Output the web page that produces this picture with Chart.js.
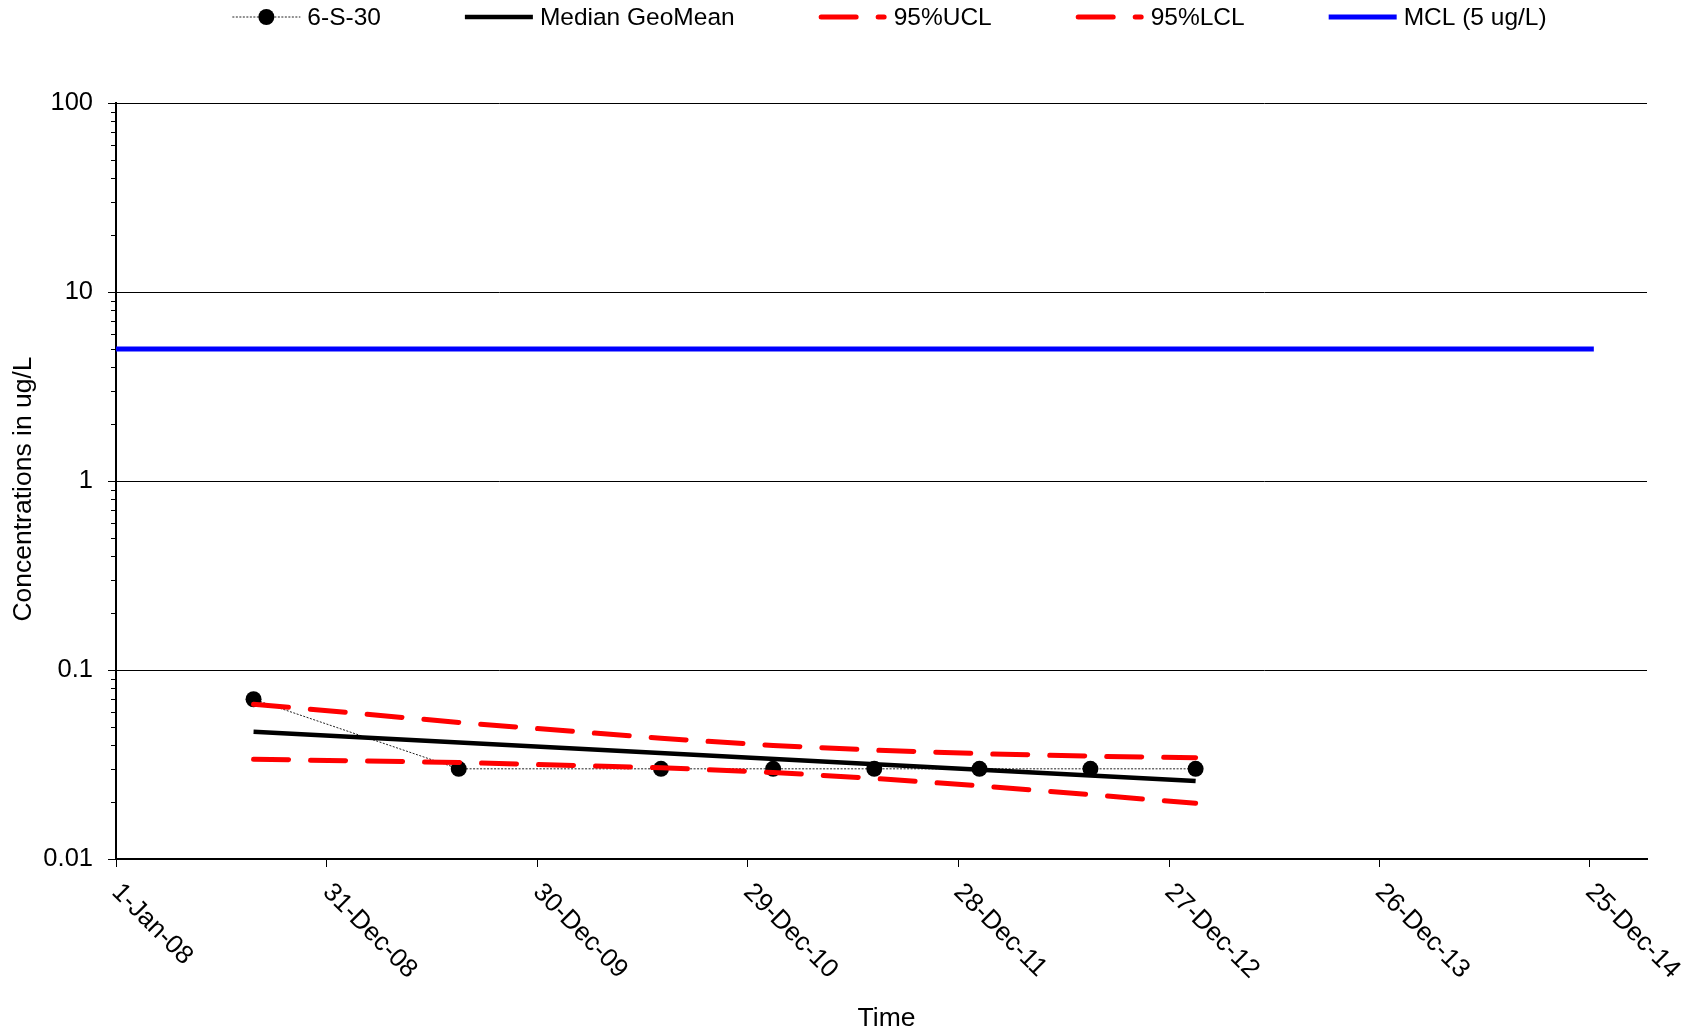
<!DOCTYPE html>
<html><head><meta charset="utf-8">
<script src="https://cdn.jsdelivr.net/npm/chart.js@4.4.0/dist/chart.umd.min.js"></script>
<style>html,body{margin:0;padding:0;background:#fff;overflow:hidden}</style>
</head><body>
<canvas id="c" width="1693" height="1034"></canvas>
<script>
// ---- data ----
const seriesName = '6-S-30';
const sampleDates = ['2008-08-26','2009-08-16','2010-08-01','2011-02-11','2011-08-05','2012-02-03','2012-08-13','2013-02-11'];
const sampleValues = [0.07,0.03,0.03,0.03,0.03,0.03,0.03,0.03];
const trendDates = ['2008-08-26','2013-02-11'];
const medianValues = [0.0471,0.0259];
const bandDates = ['2008-08-26','2009-08-16','2010-08-01','2011-02-11','2011-08-05','2012-02-03','2012-08-13','2013-02-11'];
const uclValues = [0.0659,0.0528,0.0435,0.0399,0.0377,0.0361,0.0350,0.0343];
const lclValues = [0.0337,0.0324,0.0304,0.0287,0.0267,0.0244,0.0219,0.0197];
const mclDates = ['2008-01-01','2015-01-01'];
const mclValues = [5,5];
const xTickDates = ['2008-01-01','2008-12-31','2009-12-30','2010-12-29','2011-12-28','2012-12-27','2013-12-26','2014-12-25'];
const xTickLabels = ['1-Jan-08','31-Dec-08','30-Dec-09','29-Dec-10','28-Dec-11','27-Dec-12','26-Dec-13','25-Dec-14'];
const xAxisStart = '2008-01-01';
const xAxisEnd = '2015-04-03';
const yTickValues = [0.01,0.1,1,10,100];
const yTickLabels = ['0.01','0.1','1','10','100'];
const yTitle = 'Concentrations in ug/L';
const xTitle = 'Time';

// ---- helpers ----
const FONT = "'Liberation Sans', Arial, Helvetica, sans-serif";
const DAY0 = Date.UTC(2008,0,1);
function toDay(s){const p=s.split('-').map(Number);return (Date.UTC(p[0],p[1]-1,p[2])-DAY0)/86400000;}
function pts(dates, vals){return dates.map((d,i)=>({x:toDay(d),y:vals[i]}));}

Chart.defaults.font.family = FONT;
Chart.defaults.color = '#000';

const decor = {
  id:'decor',
  afterDraw(chart){
    const {ctx, chartArea:a, scales:{x,y}} = chart;
    ctx.save();
    // minor y ticks
    ctx.strokeStyle='#000'; ctx.lineWidth=1;
    for(let e=-2;e<2;e++){for(let k=2;k<=9;k++){
      const py=Math.round(y.getPixelForValue(k*Math.pow(10,e)))+0.5;
      ctx.beginPath();ctx.moveTo(a.left-5,py);ctx.lineTo(a.left,py);ctx.stroke();
    }}
    // x tick labels (rotated 45deg clockwise)
    ctx.fillStyle='#000';
    ctx.font='26px '+FONT; ctx.textAlign='left'; ctx.textBaseline='top';
    xTickDates.forEach((d,i)=>{
      const px=x.getPixelForValue(toDay(d));
      ctx.save();ctx.translate(px+9,a.bottom+20);ctx.rotate(Math.PI/4);
      ctx.fillText(xTickLabels[i],0,0);ctx.restore();
    });
    // axis titles
    ctx.font='26.5px '+FONT;
    ctx.save();ctx.translate(24,(a.top+a.bottom)/2+8);ctx.rotate(-Math.PI/2);
    ctx.textAlign='center';ctx.textBaseline='middle';ctx.fillText(yTitle,0,0);ctx.restore();
    ctx.textAlign='center';ctx.textBaseline='middle';
    ctx.fillText(xTitle,(a.left+a.right)/2+5,1019);
    // legend
    ctx.font='24.5px '+FONT;
    const ds=chart.data.datasets;
    const sampleW=68, textGap=7, itemGap=84, ly=17;
    const widths=ds.map(d=>ctx.measureText(d.label).width);
    let total=0; widths.forEach((w,i)=>{total+=sampleW+textGap+w+(i<ds.length-1?itemGap:0);});
    let lx=(a.left+a.right)/2+8-total/2;
    ds.forEach((d,i)=>{
      ctx.save();
      ctx.beginPath();
      ctx.rect(lx-1,0,sampleW+2,40);ctx.clip();
      ctx.strokeStyle=d.borderColor;ctx.lineWidth=d.borderWidth;
      ctx.setLineDash(d.borderDash||[]);ctx.lineCap=d.borderCapStyle||'butt';
      const inset=(d.borderCapStyle==='round')?d.borderWidth/2:0;
      ctx.beginPath();ctx.moveTo(lx+inset,ly);ctx.lineTo(lx+sampleW-inset,ly);ctx.stroke();
      ctx.restore();
      if(d.pointRadius>0){ctx.beginPath();ctx.fillStyle=d.pointBackgroundColor;ctx.arc(lx+sampleW/2,ly,d.pointRadius,0,Math.PI*2);ctx.fill();}
      ctx.fillStyle='#000';ctx.textAlign='left';ctx.textBaseline='middle';
      ctx.fillText(d.label,lx+sampleW+textGap,ly+1);
      lx+=sampleW+textGap+widths[i]+itemGap;
    });
    ctx.restore();
  }
};

new Chart(document.getElementById('c'),{
  type:'line',
  data:{datasets:[
    {label:seriesName,data:pts(sampleDates,sampleValues),borderColor:'#222',borderWidth:1,borderDash:[2,1.5],
     pointRadius:8,pointHoverRadius:8,pointBackgroundColor:'#000',pointBorderColor:'#000',pointBorderWidth:0,order:5,tension:0},
    {label:'Median GeoMean',data:pts(trendDates,medianValues),borderColor:'#000',borderWidth:4.5,pointRadius:0,order:4,tension:0},
    {label:'95%UCL',data:pts(bandDates,uclValues),borderColor:'#ff0000',borderWidth:5,borderDash:[35,22],borderCapStyle:'round',borderJoinStyle:'round',pointRadius:0,order:3,tension:0},
    {label:'95%LCL',data:pts(bandDates,lclValues),borderColor:'#ff0000',borderWidth:5,borderDash:[35,22],borderCapStyle:'round',borderJoinStyle:'round',pointRadius:0,order:2,tension:0},
    {label:'MCL (5 ug/L)',data:pts(mclDates,mclValues),borderColor:'#0000ff',borderWidth:5,pointRadius:0,order:1,tension:0}
  ]},
  options:{
    responsive:false,animation:false,devicePixelRatio:1,
    layout:{padding:{top:103,right:46,left:0,bottom:0}},
    plugins:{legend:{display:false},tooltip:{enabled:false},title:{display:false}},
    scales:{
      x:{type:'linear',min:toDay(xAxisStart),max:toDay(xAxisEnd),
        afterBuildTicks:s=>{s.ticks=xTickDates.map(d=>({value:toDay(d)}));},
        afterFit:s=>{s.height=175;},
        ticks:{display:false},
        grid:{drawOnChartArea:false,drawTicks:true,tickLength:8,color:'#000',lineWidth:1},
        border:{color:'#000',width:2}},
      y:{type:'logarithmic',min:0.01,max:100,
        afterBuildTicks:s=>{s.ticks=yTickValues.map(v=>({value:v}));},
        afterFit:s=>{s.width=116;},
        ticks:{callback:(v,i)=>yTickLabels[i],font:{size:25.5},padding:15,color:'#000',autoSkip:false},
        grid:{color:'#000',lineWidth:1,tickLength:8},
        border:{color:'#000',width:2}}
    }
  },
  plugins:[decor]
});
</script>
</body></html>
